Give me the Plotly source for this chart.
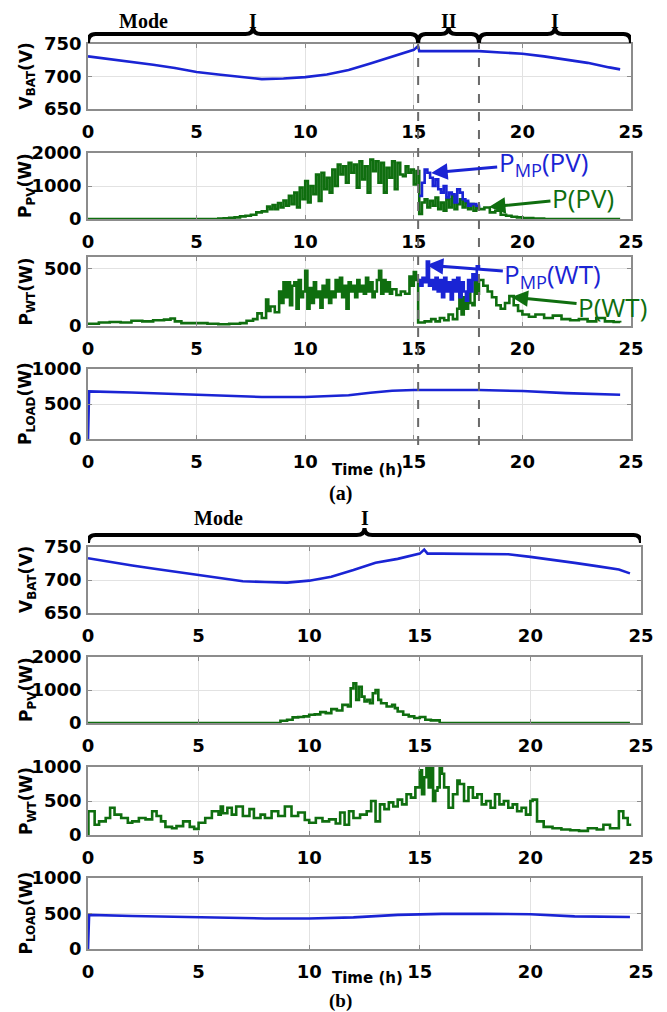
import plotly.graph_objects as go

W, H = 667, 1012

# ---------------- (a) ----------------
t_vbat_a = [0, 1, 2, 3, 4, 5, 6, 7, 8, 9, 10, 11, 12, 13, 14, 15, 15.2, 15.25,
            16, 17, 18, 19, 20, 21, 22, 23, 24, 24.5]
vbat_a = [731, 727, 722, 718, 713, 707, 703, 699, 696, 697, 699, 703, 710, 720,
          730, 741, 747, 739, 739, 739, 739, 737, 735, 731, 726, 721, 714, 711]

t_pv_a = [0, 5.5, 6.0, 6.25, 6.5, 6.75, 7.0, 7.25, 7.5, 7.75, 8.0, 8.25, 8.375,
          8.5, 8.625, 8.75, 8.875, 9.0, 9.125, 9.25, 9.375, 9.5, 9.625, 9.75, 9.875,
          10.0, 10.125, 10.25, 10.375, 10.5, 10.625, 10.75, 10.875, 11.0, 11.125,
          11.25, 11.375, 11.5, 11.625, 11.75, 11.875, 12.0, 12.125, 12.25, 12.375,
          12.5, 12.625, 12.75, 12.875, 13.0, 13.125, 13.25, 13.375, 13.5, 13.625,
          13.75, 13.875, 14.0, 14.125, 14.25, 14.375, 14.5, 14.625, 14.75, 14.875,
          15.0, 15.125, 15.25, 15.375, 15.5, 15.625, 15.75, 15.875, 16.0, 16.125,
          16.25, 16.375, 16.5, 16.625, 16.75, 16.875, 17.0, 17.125, 17.25, 17.375,
          17.5, 17.625, 17.75, 17.875, 18.0, 18.25, 18.5, 18.75, 19.0, 19.25, 19.5,
          19.75, 20.0, 20.5, 21.0, 24.5]
pv_a = [0, 0, 10, 20, 40, 50, 80, 100, 130, 200, 230, 380, 300,
        420, 300, 480, 350, 560, 400, 700, 450, 800, 350, 950, 600,
        1150, 500, 1000, 750, 1350, 550, 1400, 900, 1250, 800,
        1500, 1000, 1650, 1350, 1600, 1100, 1700, 1400, 1650, 950,
        1750, 1200, 1600, 800, 1800, 1450, 1750, 1100, 1700, 800,
        1550, 1250, 1750, 900, 1700, 1350, 1300, 1600, 1400, 1500,
        1050, 1450, 150, 500, 600, 350, 550, 400, 650, 300,
        500, 250, 600, 350, 700, 300, 450, 600, 350, 500,
        300, 450, 250, 350, 300, 350, 200, 250, 130, 100, 70,
        50, 30, 10, 0, 0]

t_pvmp_a = [15.25, 15.375, 15.5, 15.625, 15.75, 15.875, 16.0, 16.125, 16.25,
            16.375, 16.5, 16.625, 16.75, 16.875, 17.0, 17.125, 17.25, 17.375,
            17.5, 17.625, 17.75, 17.875, 18.0]
pvmp_a = [700, 1100, 1500, 1400, 1250, 1000, 1200, 900, 800,
          1000, 650, 800, 750, 500, 900, 800, 600, 550,
          400, 450, 450, 400, 350]

t_wt_a = [0, 0.5, 1.0, 1.5, 2.0, 2.5, 3.0, 3.5, 3.8, 4.0, 4.3, 5.0, 5.5, 6.0, 6.5,
          7.0, 7.3, 7.6, 7.8, 8.0, 8.2, 8.3, 8.4, 8.6, 8.8, 8.9, 9.0, 9.1, 9.2, 9.3,
          9.4, 9.5, 9.6, 9.7, 9.8, 9.9, 10.0, 10.1, 10.2, 10.3, 10.4, 10.5, 10.6,
          10.7, 10.8, 10.9, 11.0, 11.1, 11.2, 11.3, 11.4, 11.5, 11.6, 11.7, 11.8,
          11.9, 12.0, 12.1, 12.2, 12.3, 12.4, 12.5, 12.6, 12.7, 12.8, 12.9, 13.0,
          13.1, 13.2, 13.3, 13.4, 13.5, 13.6, 13.7, 13.8, 13.9, 14.0, 14.2, 14.4,
          14.6, 14.8, 14.9, 15.0, 15.1, 15.2, 15.5, 15.8, 16.0, 16.2, 16.4, 16.6,
          16.8, 17.0, 17.1, 17.2, 17.3, 17.4, 17.5, 17.6, 17.7, 17.8, 17.9, 18.0,
          18.2, 18.4, 18.6, 18.8, 19.0, 19.2, 19.4, 19.6, 19.8, 20.0, 20.3, 20.6,
          21.0, 21.4, 21.8, 22.2, 22.6, 23.0, 23.4, 23.8, 24.2, 24.5]
wt_a = [20, 30, 35, 30, 45, 40, 50, 55, 65, 40, 25, 25, 20, 15, 20,
        25, 45, 60, 110, 70, 230, 130, 170, 120, 300, 200, 380, 250, 380, 180,
        350, 380, 150, 400, 250, 300, 480, 150, 330, 200, 380, 250, 300,
        160, 350, 250, 400, 200, 300, 250, 400, 300, 420, 250, 350,
        150, 380, 300, 350, 250, 400, 300, 350, 280, 420, 300, 380,
        250, 300, 400, 480, 280, 400, 300, 380, 280, 320, 270, 300,
        280, 430, 350, 470, 400, 30, 40, 60, 40, 70, 50, 100,
        60, 150, 300, 100, 250, 150, 300, 200, 180, 380, 280, 400,
        350, 300, 250, 180, 150, 200, 260, 180, 130, 100, 80, 100,
        70, 90, 60, 50, 60, 40, 70, 40, 35, 30]

t_wtmp_a = [15.2, 15.3, 15.4, 15.5, 15.6, 15.7, 15.8, 15.9, 16.0, 16.1, 16.2, 16.3,
            16.4, 16.5, 16.6, 16.7, 16.8, 16.9, 17.0, 17.1, 17.2, 17.3, 17.4, 17.5,
            17.6, 17.7, 17.8, 17.9, 18.0]
wtmp_a = [400, 350, 420, 380, 560, 350, 400, 320, 420, 300, 400, 250,
          420, 300, 380, 230, 400, 300, 420, 250, 380, 300, 220, 400,
          300, 450, 400, 520, 500]

t_load_a = [0, 0.05, 2, 4, 6, 8, 10, 12, 13, 14, 15, 16, 18, 20, 22, 24.5]
load_a = [0, 680, 665, 645, 625, 600, 600, 625, 660, 690, 700, 700, 700, 685, 655, 632]

# ---------------- (b) ----------------
t_vbat_b = [0, 1, 2, 3, 4, 5, 6, 7, 8, 8.5, 9, 10, 11, 12, 13, 14, 15, 15.2, 15.35,
            16, 17, 18, 19, 20, 21, 22, 23, 24, 24.5]
vbat_b = [733, 727, 722, 717, 712, 707, 703, 698, 697, 696, 696, 699, 705, 715, 726,
          732, 740, 746, 740, 740, 740, 740, 739, 735, 731, 726, 721, 716, 710]

t_pv_b = [0, 8.7, 9.0, 9.25, 9.5, 9.75, 10.0, 10.25, 10.5, 10.75, 11.0, 11.25, 11.5,
          11.75, 11.875, 12.0, 12.125, 12.25, 12.375, 12.5, 12.625, 12.75, 12.875,
          13.0, 13.125, 13.25, 13.5, 13.75, 13.875, 14.0, 14.25, 14.5, 14.75, 15.0,
          15.25, 15.5, 15.9, 24.5]
pv_b = [0, 70, 100, 170, 180, 200, 250, 260, 330, 300, 420, 380, 550,
        500, 1050, 1200, 700, 1100, 800, 650, 700, 600, 900,
        1000, 700, 600, 500, 550, 450, 350, 250, 200, 150, 180,
        100, 80, 0, 0]

t_wt_b = [0, 0.02, 0.3, 0.5, 0.8, 1.0, 1.2, 1.5, 1.8, 2.0, 2.3, 2.6, 2.9, 3.1, 3.3,
          3.5, 3.8, 4.0, 4.3, 4.6, 4.8, 5.0, 5.3, 5.6, 5.9, 6.0, 6.1, 6.3, 6.5, 6.7,
          7.0, 7.3, 7.5, 7.8, 8.0, 8.3, 8.6, 8.9, 9.2, 9.5, 9.8, 10.0, 10.3, 10.6,
          10.9, 11.2, 11.4, 11.6, 11.8, 12.0, 12.3, 12.6, 12.8, 13.0, 13.2, 13.4,
          13.6, 13.8, 14.0, 14.2, 14.4, 14.6, 14.8, 15.0, 15.1, 15.2, 15.3, 15.4,
          15.5, 15.6, 15.7, 15.8, 15.9, 16.0, 16.1, 16.3, 16.5, 16.7, 16.8, 17.0,
          17.2, 17.4, 17.6, 17.8, 18.0, 18.2, 18.4, 18.6, 18.8, 19.0, 19.2, 19.4,
          19.6, 19.8, 20.0, 20.1, 20.3, 20.6, 21.0, 21.4, 21.8, 22.2, 22.6, 23.0,
          23.3, 23.6, 24.0, 24.2, 24.4, 24.5]
wt_b = [0, 350, 150, 200, 250, 400, 300, 250, 180, 200, 250, 230, 350, 280, 200,
        120, 100, 130, 200, 120, 90, 180, 250, 350, 300, 420, 320, 400, 300, 420,
        280, 380, 250, 300, 250, 350, 280, 420, 280, 330, 220, 180, 250, 200,
        230, 170, 330, 150, 350, 250, 300, 350, 500, 200, 450, 380,
        480, 420, 520, 450, 600, 550, 700, 950, 600, 850, 1000, 700,
        1000, 500, 650, 700, 1000, 900, 700, 400, 600, 800, 750, 500,
        700, 550, 600, 450, 500, 400, 600, 450, 500, 400, 450, 350,
        400, 300, 500, 520, 200, 120, 100, 80, 70, 60, 100, 80,
        150, 100, 350, 250, 150, 170]

t_load_b = [0, 0.05, 2, 5, 8, 10, 12, 14, 15, 16, 18, 20, 22, 24.5]
load_b = [0, 480, 465, 445, 430, 430, 445, 480, 490, 495, 495, 490, 460, 450]

# mode switching instants in (a)
t_sw = [15.2, 18.0]

BLUE = "#1a24d4"
GREEN = "#0f6e0f"

# the page body adds an 8 px margin, so positions are taken 8 px up/left
OFF = 8


def py(p):
    # pixel row -> paper y
    return 1 - (p - OFF) / H


def px(p):
    return (p - OFF) / W


# plot boxes (pixel rows)
rows = [(44, 109), (153, 219), (257, 326), (369, 439),
        (547, 613), (657, 723), (767, 835), (878, 949)]
xdom_a = [px(88), px(631)]
xdom_b = [px(88), px(641)]

yranges = [[650, 750], [0, 2000], [0, 600], [0, 1000],
           [650, 750], [0, 2000], [0, 1000], [0, 1000]]
yticks = [[650, 700, 750], [0, 1000, 2000], [0, 500], [0, 500, 1000],
          [650, 700, 750], [0, 1000, 2000], [0, 500, 1000], [0, 500, 1000]]
ytitles = ["V<sub>BAT</sub>(V)", "P<sub>PV</sub>(W)", "P<sub>WT</sub>(W)",
           "P<sub>LOAD</sub>(W)"] * 2

series = [
    (1, t_vbat_a, vbat_a, BLUE, "linear"),
    (2, t_pv_a, pv_a, GREEN, "hv"),
    (2, t_pvmp_a, pvmp_a, BLUE, "hv"),
    (3, t_wt_a, wt_a, GREEN, "hv"),
    (3, t_wtmp_a, wtmp_a, BLUE, "hv"),
    (4, t_load_a, load_a, BLUE, "linear"),
    (5, t_vbat_b, vbat_b, BLUE, "linear"),
    (6, t_pv_b, pv_b, GREEN, "hv"),
    (7, t_wt_b, wt_b, GREEN, "hv"),
    (8, t_load_b, load_b, BLUE, "linear"),
]

fig = go.Figure()
for k, t, v, col, shape in series:
    fig.add_trace(go.Scatter(x=t, y=v, mode="lines", xaxis="x%d" % k, yaxis="y%d" % k,
                             line=dict(color=col, width=2.6, shape=shape),
                             showlegend=False, hoverinfo="skip"))

tickfont = dict(family="DejaVu Sans", size=18, color="black", weight="bold")
layout = dict(width=W, height=H, margin=dict(l=0, r=0, t=0, b=0, autoexpand=False),
              paper_bgcolor="white", plot_bgcolor="white", showlegend=False)
annotations = []
for i in range(8):
    k = i + 1
    top, bot = rows[i]
    layout["xaxis%d" % k] = dict(
        domain=xdom_a if i < 4 else xdom_b, anchor="y%d" % k, range=[0, 25],
        tickvals=[0, 5, 10, 15, 20, 25], tickfont=tickfont, ticklabelstandoff=6,
        showgrid=True, gridcolor="#e2e2e2", gridwidth=1, zeroline=False,
        showline=True, linecolor="#8c8c8c", linewidth=1.5, mirror="ticks",
        ticks="inside", ticklen=4, tickcolor="#8c8c8c", automargin=False)
    layout["yaxis%d" % k] = dict(
        domain=[py(bot), py(top)], anchor="x%d" % k, range=yranges[i],
        tickvals=yticks[i], tickfont=tickfont, ticklabelstandoff=1,
        showgrid=True, gridcolor="#e2e2e2", gridwidth=1, zeroline=False,
        showline=True, linecolor="#8c8c8c", linewidth=1.5, mirror="ticks",
        ticks="inside", ticklen=4, tickcolor="#8c8c8c", automargin=False)
    annotations.append(dict(
        text="<b>%s</b>" % ytitles[i], textangle=-90, xref="paper", yref="paper",
        x=px(27), y=py((top + bot) / 2), xanchor="center", yanchor="middle",
        showarrow=False, font=dict(family="DejaVu Sans", size=17, color="black")))

serif = dict(family="Liberation Serif", size=20, color="black", weight="bold")
for lab, xx, yy in [("Time (h)", 367, 470), ("Time (h)", 367, 978)]:
    annotations.append(dict(text="<b>%s</b>" % lab, xref="paper", yref="paper",
                            x=px(xx), y=py(yy), xanchor="center", yanchor="middle",
                            showarrow=False,
                            font=dict(family="DejaVu Sans", size=15, color="black")))
for lab, xx, yy, fs in [("(a)", 340, 493, 20), ("(b)", 340, 1001, 19),
                        ("Mode", 143, 21, 20), ("Mode", 218, 518, 20)]:
    annotations.append(dict(text=lab, xref="paper", yref="paper", x=px(xx), y=py(yy),
                            xanchor="center", yanchor="middle", showarrow=False,
                            font=dict(serif, size=fs)))

# mode braces and their labels
shapes = []


def brace(x0, x1, xref, yend, yline, ypeak, ylab, label):
    r = 0.35
    m = (x0 + x1) / 2
    e, l, p = py(yend), py(yline), py(ypeak)
    path = ("M %f,%f Q %f,%f %f,%f L %f,%f Q %f,%f %f,%f Q %f,%f %f,%f L %f,%f Q %f,%f %f,%f"
            % (x0, e, x0, l, x0 + r, l, m - r, l, m, l, m, p, m, l, m + r, l,
               x1 - r, l, x1, l, x1, e))
    shapes.append(dict(type="path", path=path, xref=xref, yref="paper",
                       line=dict(color="black", width=4)))
    annotations.append(dict(text=label, xref=xref, yref="paper", x=m, y=py(ylab),
                            xanchor="center", yanchor="middle",
                            showarrow=False, font=serif))


brace(0, t_sw[0], "x", 43, 34, 27, 21, "I")
brace(t_sw[0], t_sw[1], "x", 43, 34, 27, 21, "II")
brace(t_sw[1], 25, "x", 43, 34, 27, 21, "I")
brace(0, 25, "x5", 543, 535, 528, 518, "I")

for ts in t_sw:
    shapes.append(dict(type="line", xref="x", yref="paper", x0=ts, x1=ts,
                       y0=py(445), y1=py(44),
                       line=dict(color="#6a6a6a", width=2, dash="dash")))

# labels with arrows in (a)
ann_font = "Open Sans"
for txt, col, xr, yr, xx, yy, ax, ay in [
        ("P<sub>MP</sub>(PV)", BLUE, "x2", "y2", 15.8, 1394, 112, -10),
        ("P(PV)", GREEN, "x2", "y2", 18.46, 364, 94, -9),
        ("P<sub>MP</sub>(WT)", BLUE, "x3", "y3", 15.6, 530, 126, 10),
        ("P(WT)", GREEN, "x3", "y3", 19.5, 252, 101, 10)]:
    annotations.append(dict(text=txt, xref=xr, yref=yr, x=xx, y=yy, ax=ax, ay=ay,
                            showarrow=True, arrowhead=2, arrowsize=1.1, arrowwidth=3,
                            arrowcolor=col, standoff=0,
                            font=dict(family=ann_font, size=26, color=col)))

layout["annotations"] = annotations
layout["shapes"] = shapes
fig.update_layout(**layout)
fig.write_html("out.html")
